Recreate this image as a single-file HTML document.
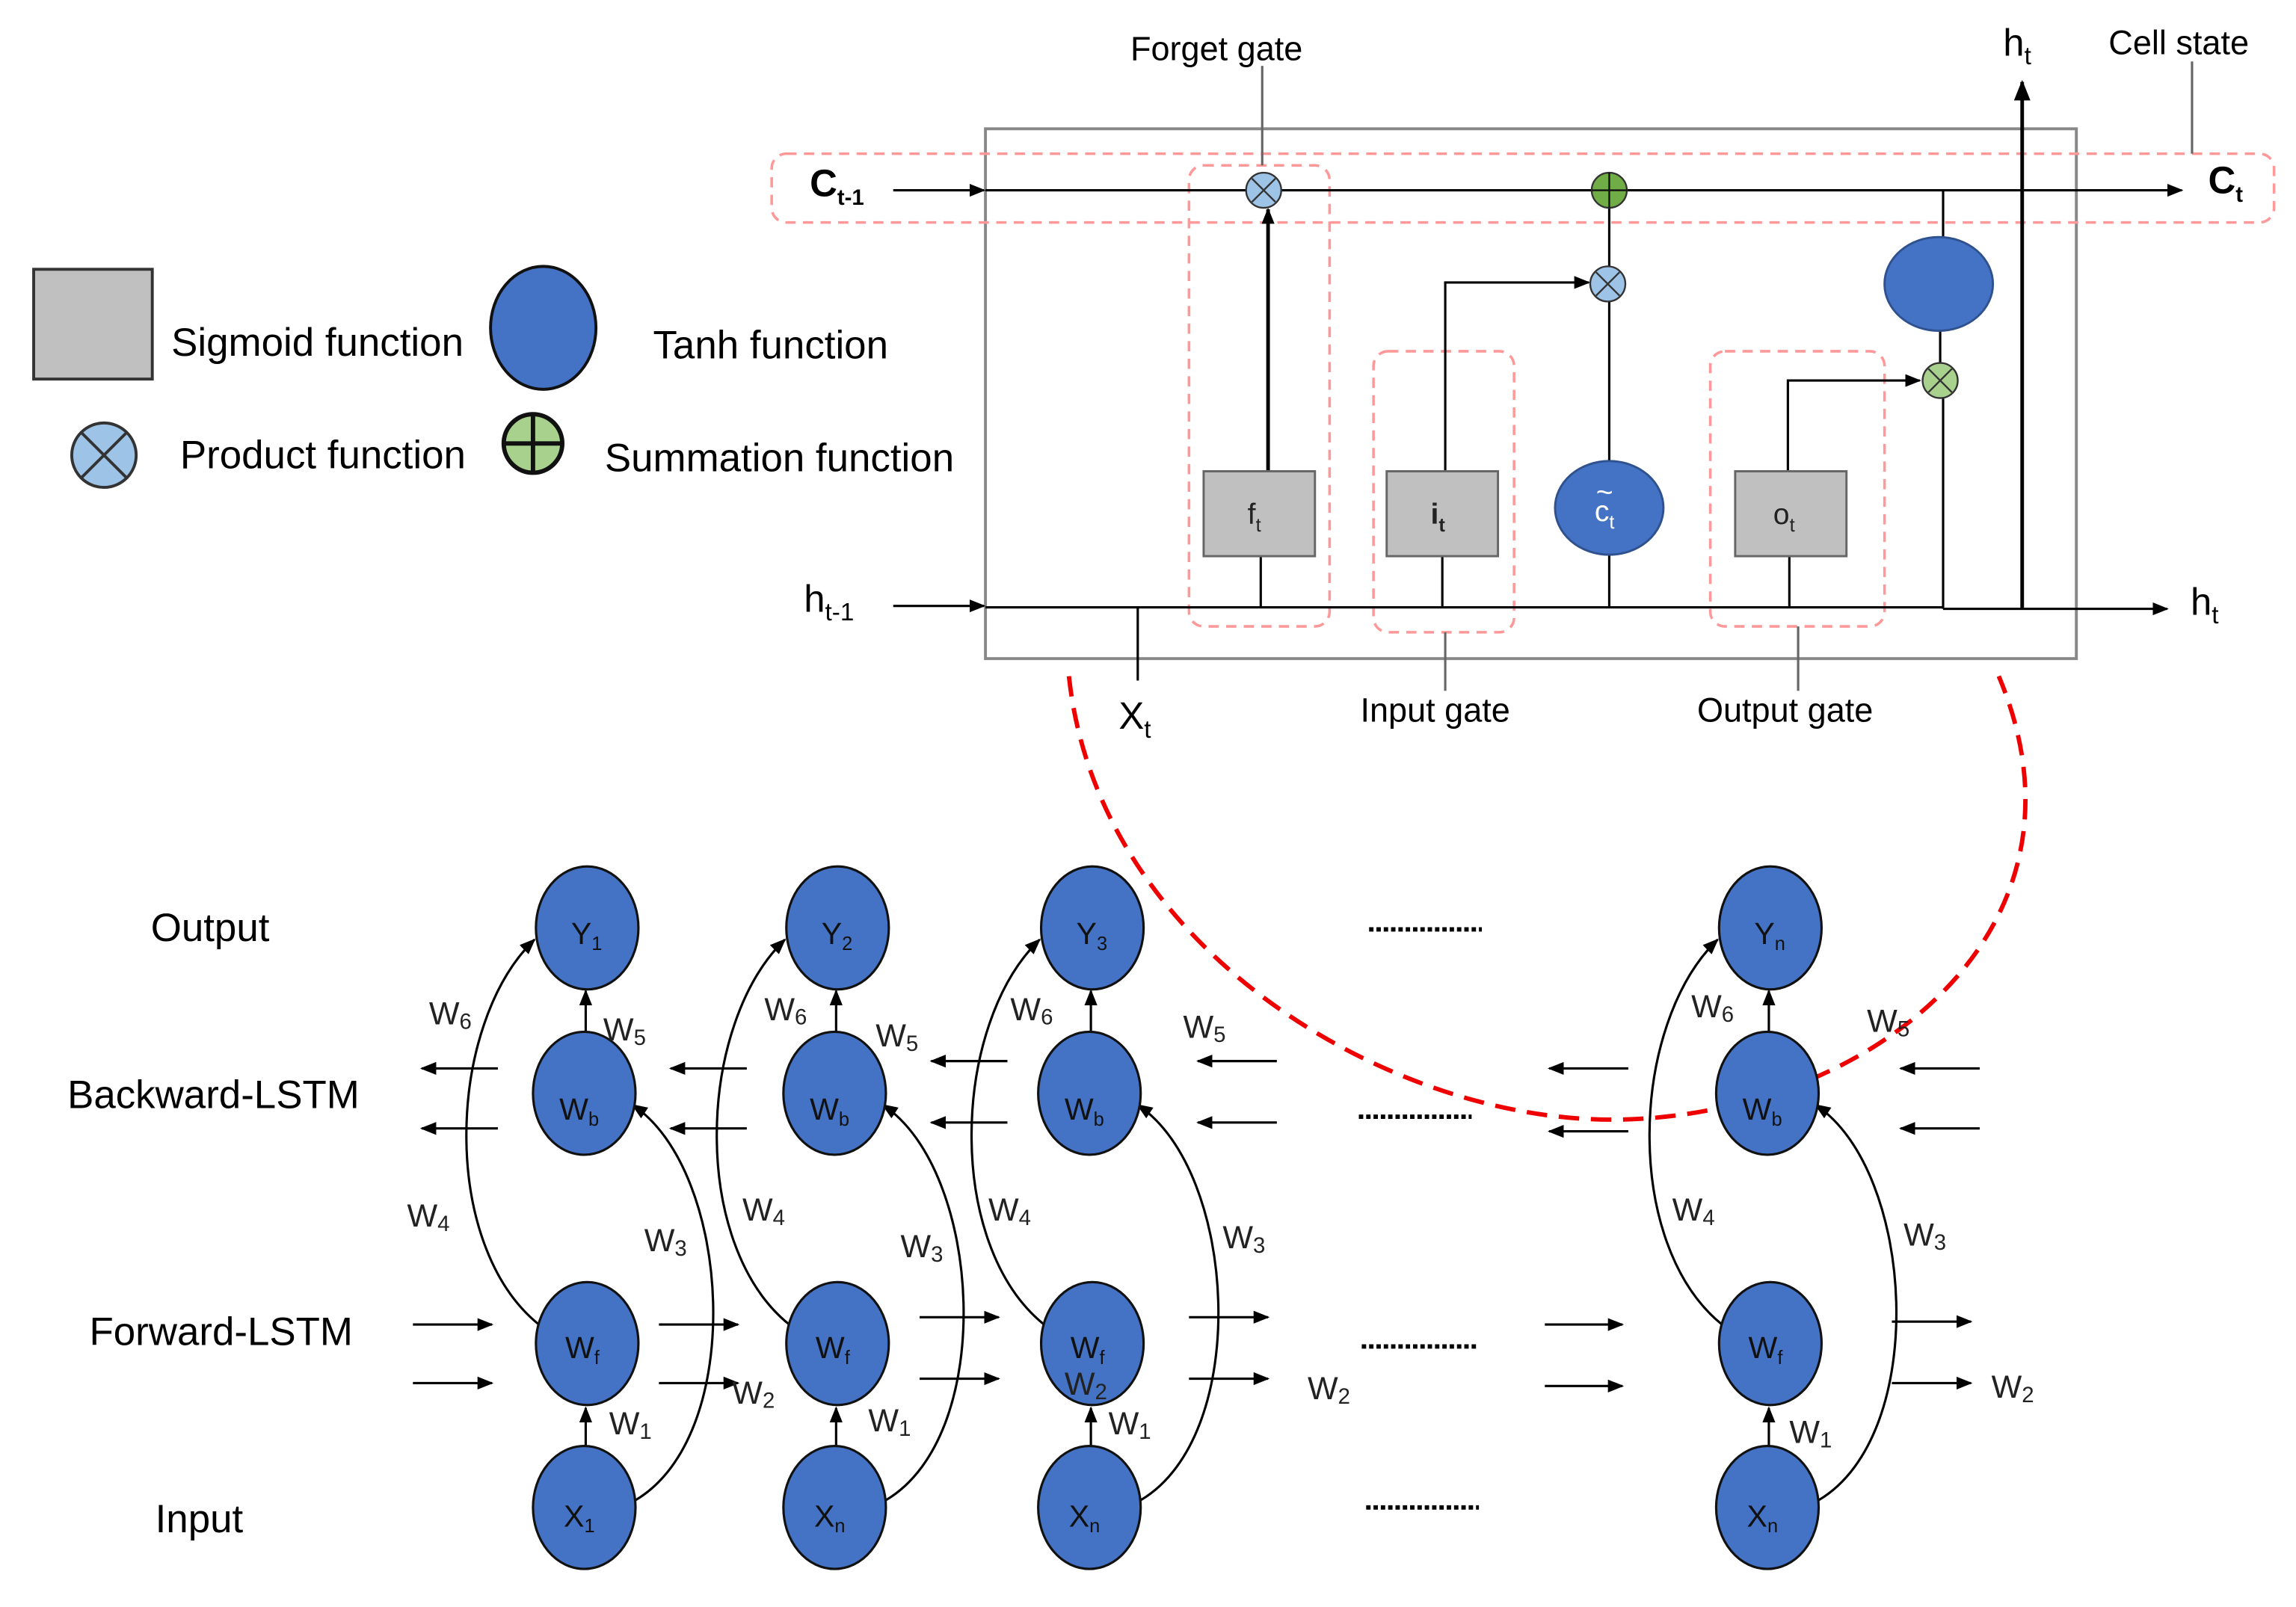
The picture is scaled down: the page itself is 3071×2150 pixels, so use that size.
<!DOCTYPE html>
<html><head><meta charset="utf-8"><style>html,body{margin:0;padding:0;background:#fff}svg{display:block}</style></head>
<body>
<svg width="3071" height="2150" viewBox="0 0 1568 1098" preserveAspectRatio="none" xmlns="http://www.w3.org/2000/svg" font-family="Liberation Sans, sans-serif">
<defs>
<marker id="a" viewBox="0 0 10 10" refX="9" refY="5" markerWidth="11" markerHeight="11" orient="auto-start-reverse" markerUnits="userSpaceOnUse"><path d="M0,1 L10,5 L0,9z" fill="#000"/></marker>
<marker id="b" viewBox="0 0 10 10" refX="9" refY="5" markerWidth="14" markerHeight="14" orient="auto-start-reverse" markerUnits="userSpaceOnUse"><path d="M0,1 L10,5 L0,9z" fill="#000"/></marker>
</defs>
<rect width="1568" height="1098" fill="#fff"/>
<rect x="23" y="184" width="81" height="75" fill="#c0c0c0" stroke="#333" stroke-width="2"/>
<text x="117" y="243" font-size="27">Sigmoid function</text>
<ellipse cx="371" cy="224" rx="36" ry="42" fill="#4472c4" stroke="#111" stroke-width="2"/>
<text x="446" y="245" font-size="27">Tanh function</text>
<circle cx="71" cy="311" r="22" fill="#9dc3e6" stroke="#333" stroke-width="2"/>
<path d="M56,296 L86,326 M86,296 L56,326" stroke="#333" stroke-width="2"/>
<text x="123" y="320" font-size="27">Product function</text>
<circle cx="364" cy="303" r="20" fill="#a9d18e" stroke="#111" stroke-width="3"/>
<path d="M344,303 H384 M364,283 V323" stroke="#111" stroke-width="3"/>
<text x="413" y="322" font-size="27">Summation function</text>
<rect x="673" y="88" width="745" height="362" fill="none" stroke="#888" stroke-width="2"/>
<g fill="none" stroke="#f99" stroke-width="1.8" stroke-dasharray="7,5">
<rect x="527" y="105" width="1026" height="47" rx="10"/>
<rect x="812" y="113" width="96" height="315" rx="10"/>
<rect x="938" y="240" width="96" height="192" rx="10"/>
<rect x="1168" y="240" width="119" height="188" rx="10"/>
</g>
<g stroke="#000" stroke-width="1.6" fill="none">
<line x1="610" y1="130" x2="672" y2="130" marker-end="url(#a)"/>
<line x1="673" y1="130" x2="1490" y2="130" marker-end="url(#a)"/>
<line x1="610" y1="414" x2="672" y2="414" marker-end="url(#a)"/>
<line x1="673" y1="415" x2="1327" y2="415"/>
<line x1="1327" y1="416" x2="1480" y2="416" marker-end="url(#a)"/>
<line x1="1381" y1="416" x2="1381" y2="56" stroke-width="2.5" marker-end="url(#b)"/>
<line x1="777" y1="415" x2="777" y2="465"/>
<line x1="861" y1="415" x2="861" y2="380"/>
<line x1="866" y1="322" x2="866" y2="143" stroke-width="2.5" marker-end="url(#a)"/>
<line x1="985" y1="415" x2="985" y2="380"/>
<polyline points="987,322 987,193 1085,193" marker-end="url(#a)"/>
<line x1="1099" y1="415" x2="1099" y2="379"/>
<line x1="1099" y1="315" x2="1099" y2="206"/>
<line x1="1099" y1="182" x2="1099" y2="142"/>
<line x1="1222" y1="415" x2="1222" y2="380"/>
<polyline points="1221,322 1221,260 1311,260" marker-end="url(#a)"/>
<line x1="1327" y1="130" x2="1327" y2="162"/>
<line x1="1325" y1="226" x2="1325" y2="248"/>
<line x1="1327" y1="272" x2="1327" y2="416"/>
<line x1="862" y1="45" x2="862" y2="113" stroke="#666"/>
<line x1="1497" y1="42" x2="1497" y2="105" stroke="#666"/>
<line x1="987" y1="432" x2="987" y2="472" stroke="#666"/>
<line x1="1228" y1="428" x2="1228" y2="472" stroke="#666"/>
</g>
<g stroke="#666" stroke-width="1.5">
<rect x="822" y="322" width="76" height="58" fill="#c0c0c0"/>
<rect x="947" y="322" width="76" height="58" fill="#c0c0c0"/>
<rect x="1185" y="322" width="76" height="58" fill="#c0c0c0"/>
</g>
<ellipse cx="1099" cy="347" rx="37" ry="32" fill="#4472c4" stroke="#2f528f" stroke-width="1.5"/>
<ellipse cx="1324" cy="194" rx="37" ry="32" fill="#4472c4" stroke="#2f528f" stroke-width="1.5"/>
<g stroke="#333" stroke-width="1.2">
<circle cx="863" cy="130" r="12" fill="#9dc3e6"/><path d="M855,122 L871,138 M871,122 L855,138"/>
<circle cx="1098" cy="194" r="12" fill="#9dc3e6"/><path d="M1090,186 L1106,202 M1106,186 L1090,202"/>
<circle cx="1325" cy="260" r="12" fill="#a9d18e"/><path d="M1317,252 L1333,268 M1333,252 L1317,268"/>
<circle cx="1099" cy="130" r="12" fill="#70ad47"/><path d="M1087,130 H1111 M1099,118 V142" stroke="#111"/>
</g>
<g font-size="20" fill="#222">
<text x="852" y="358">f<tspan font-size="13" dy="5">t</tspan></text>
<text x="977" y="358" font-weight="bold">i<tspan font-size="13" dy="5">t</tspan></text>
<text x="1211" y="358">o<tspan font-size="13" dy="5">t</tspan></text>
<text x="1089" y="356" fill="#fff">c<tspan font-size="13" dy="5">t</tspan></text>
<text x="1090" y="343" fill="#fff">~</text>
</g>
<g font-size="23">
<text x="772" y="41">Forget gate</text>
<text x="1440" y="37">Cell state</text>
<text x="929" y="493">Input gate</text>
<text x="1159" y="493">Output gate</text>
</g>
<g font-size="26">
<text x="553" y="134" font-weight="bold">C<tspan font-size="15" dy="6">t-1</tspan></text>
<text x="1508" y="132" font-weight="bold">C<tspan font-size="15" dy="6">t</tspan></text>
<text x="549" y="418">h<tspan font-size="17" dy="6">t-1</tspan></text>
<text x="1496" y="420">h<tspan font-size="17" dy="6">t</tspan></text>
<text x="1368" y="38">h<tspan font-size="17" dy="6">t</tspan></text>
<text x="764" y="498">X<tspan font-size="17" dy="6">t</tspan></text>
</g>
<path d="M730,462 C750,650 950,765 1100,765 C1270,765 1440,640 1365,462" fill="none" stroke="#e00" stroke-width="3" stroke-dasharray="14,8"/>
<g font-size="27">
<text x="103" y="643">Output</text>
<text x="46" y="757">Backward-LSTM</text>
<text x="61" y="919">Forward-LSTM</text>
<text x="106" y="1047">Input</text>
</g>
<g stroke="#000" stroke-width="3" stroke-dasharray="3,2">
<line x1="935" y1="635" x2="1012" y2="635"/><line x1="928" y1="763" x2="1005" y2="763"/>
<line x1="930" y1="920" x2="1008" y2="920"/><line x1="933" y1="1030" x2="1010" y2="1030"/>
</g>
<g stroke="#000" stroke-width="1.6" fill="none">
<line x1="340" y1="730" x2="288" y2="730" marker-end="url(#a)"/><line x1="340" y1="771" x2="288" y2="771" marker-end="url(#a)"/>
<line x1="510" y1="730" x2="458" y2="730" marker-end="url(#a)"/><line x1="510" y1="771" x2="458" y2="771" marker-end="url(#a)"/>
<line x1="688" y1="725" x2="636" y2="725" marker-end="url(#a)"/><line x1="688" y1="767" x2="636" y2="767" marker-end="url(#a)"/>
<line x1="872" y1="725" x2="818" y2="725" marker-end="url(#a)"/><line x1="872" y1="767" x2="818" y2="767" marker-end="url(#a)"/>
<line x1="1112" y1="730" x2="1058" y2="730" marker-end="url(#a)"/><line x1="1112" y1="773" x2="1058" y2="773" marker-end="url(#a)"/>
<line x1="1352" y1="730" x2="1298" y2="730" marker-end="url(#a)"/><line x1="1352" y1="771" x2="1298" y2="771" marker-end="url(#a)"/>
<line x1="282" y1="905" x2="336" y2="905" marker-end="url(#a)"/><line x1="282" y1="945" x2="336" y2="945" marker-end="url(#a)"/>
<line x1="450" y1="905" x2="504" y2="905" marker-end="url(#a)"/><line x1="450" y1="945" x2="504" y2="945" marker-end="url(#a)"/>
<line x1="628" y1="900" x2="682" y2="900" marker-end="url(#a)"/><line x1="628" y1="942" x2="682" y2="942" marker-end="url(#a)"/>
<line x1="812" y1="900" x2="866" y2="900" marker-end="url(#a)"/><line x1="812" y1="942" x2="866" y2="942" marker-end="url(#a)"/>
<line x1="1055" y1="905" x2="1108" y2="905" marker-end="url(#a)"/><line x1="1055" y1="947" x2="1108" y2="947" marker-end="url(#a)"/>
<line x1="1292" y1="903" x2="1346" y2="903" marker-end="url(#a)"/><line x1="1292" y1="945" x2="1346" y2="945" marker-end="url(#a)"/>
</g>
<g id="col">
<g stroke="#000" stroke-width="1.6" fill="none">
<line x1="400" y1="988" x2="400" y2="962" marker-end="url(#a)"/>
<line x1="400" y1="705" x2="400" y2="677" marker-end="url(#a)"/>
<path d="M368,905 C300,850 305,700 365,642" marker-end="url(#a)"/>
<path d="M434,1025 C510,980 500,800 432,755" marker-end="url(#a)"/>
</g>
<g fill="#4472c4" stroke="#111" stroke-width="1.6">
<ellipse cx="401" cy="634" rx="35" ry="42"/>
<ellipse cx="399" cy="747" rx="35" ry="42"/>
<ellipse cx="401" cy="918" rx="35" ry="42"/>
<ellipse cx="399" cy="1030" rx="35" ry="42"/>
</g>
</g>
<use href="#col" x="171"/><use href="#col" x="345"/><use href="#col" x="808"/>
<g font-size="21" fill="#111">
<text x="390" y="645">Y<tspan font-size="13" dy="4">1</tspan></text>
<text x="561" y="645">Y<tspan font-size="13" dy="4">2</tspan></text>
<text x="735" y="645">Y<tspan font-size="13" dy="4">3</tspan></text>
<text x="1198" y="645">Y<tspan font-size="13" dy="4">n</tspan></text>
<text x="382" y="765">W<tspan font-size="13" dy="4">b</tspan></text>
<text x="553" y="765">W<tspan font-size="13" dy="4">b</tspan></text>
<text x="727" y="765">W<tspan font-size="13" dy="4">b</tspan></text>
<text x="1190" y="765">W<tspan font-size="13" dy="4">b</tspan></text>
<text x="386" y="928">W<tspan font-size="13" dy="4">f</tspan></text>
<text x="557" y="928">W<tspan font-size="13" dy="4">f</tspan></text>
<text x="731" y="928">W<tspan font-size="13" dy="4">f</tspan></text>
<text x="1194" y="928">W<tspan font-size="13" dy="4">f</tspan></text>
<text x="385" y="1043">X<tspan font-size="13" dy="4">1</tspan></text>
<text x="556" y="1043">X<tspan font-size="13" dy="4">n</tspan></text>
<text x="730" y="1043">X<tspan font-size="13" dy="4">n</tspan></text>
<text x="1193" y="1043">X<tspan font-size="13" dy="4">n</tspan></text>
</g>
<g font-size="22" fill="#222">
<text x="293" y="700">W<tspan font-size="15" dy="3">6</tspan></text><text x="412" y="711">W<tspan font-size="15" dy="3">5</tspan></text>
<text x="278" y="838">W<tspan font-size="15" dy="3">4</tspan></text><text x="440" y="855">W<tspan font-size="15" dy="3">3</tspan></text>
<text x="500" y="959">W<tspan font-size="15" dy="3">2</tspan></text><text x="416" y="980">W<tspan font-size="15" dy="3">1</tspan></text>
<text x="522" y="697">W<tspan font-size="15" dy="3">6</tspan></text><text x="598" y="715">W<tspan font-size="15" dy="3">5</tspan></text>
<text x="507" y="834">W<tspan font-size="15" dy="3">4</tspan></text><text x="615" y="859">W<tspan font-size="15" dy="3">3</tspan></text>
<text x="593" y="978">W<tspan font-size="15" dy="3">1</tspan></text>
<text x="690" y="697">W<tspan font-size="15" dy="3">6</tspan></text><text x="808" y="709">W<tspan font-size="15" dy="3">5</tspan></text>
<text x="675" y="834">W<tspan font-size="15" dy="3">4</tspan></text><text x="835" y="853">W<tspan font-size="15" dy="3">3</tspan></text>
<text x="727" y="953">W<tspan font-size="15" dy="3">2</tspan></text><text x="757" y="980">W<tspan font-size="15" dy="3">1</tspan></text>
<text x="893" y="956">W<tspan font-size="15" dy="3">2</tspan></text>
<text x="1155" y="695">W<tspan font-size="15" dy="3">6</tspan></text><text x="1275" y="705">W<tspan font-size="15" dy="3">5</tspan></text>
<text x="1142" y="834">W<tspan font-size="15" dy="3">4</tspan></text><text x="1300" y="851">W<tspan font-size="15" dy="3">3</tspan></text>
<text x="1360" y="955">W<tspan font-size="15" dy="3">2</tspan></text><text x="1222" y="986">W<tspan font-size="15" dy="3">1</tspan></text>
</g>
</svg>
</body></html>
